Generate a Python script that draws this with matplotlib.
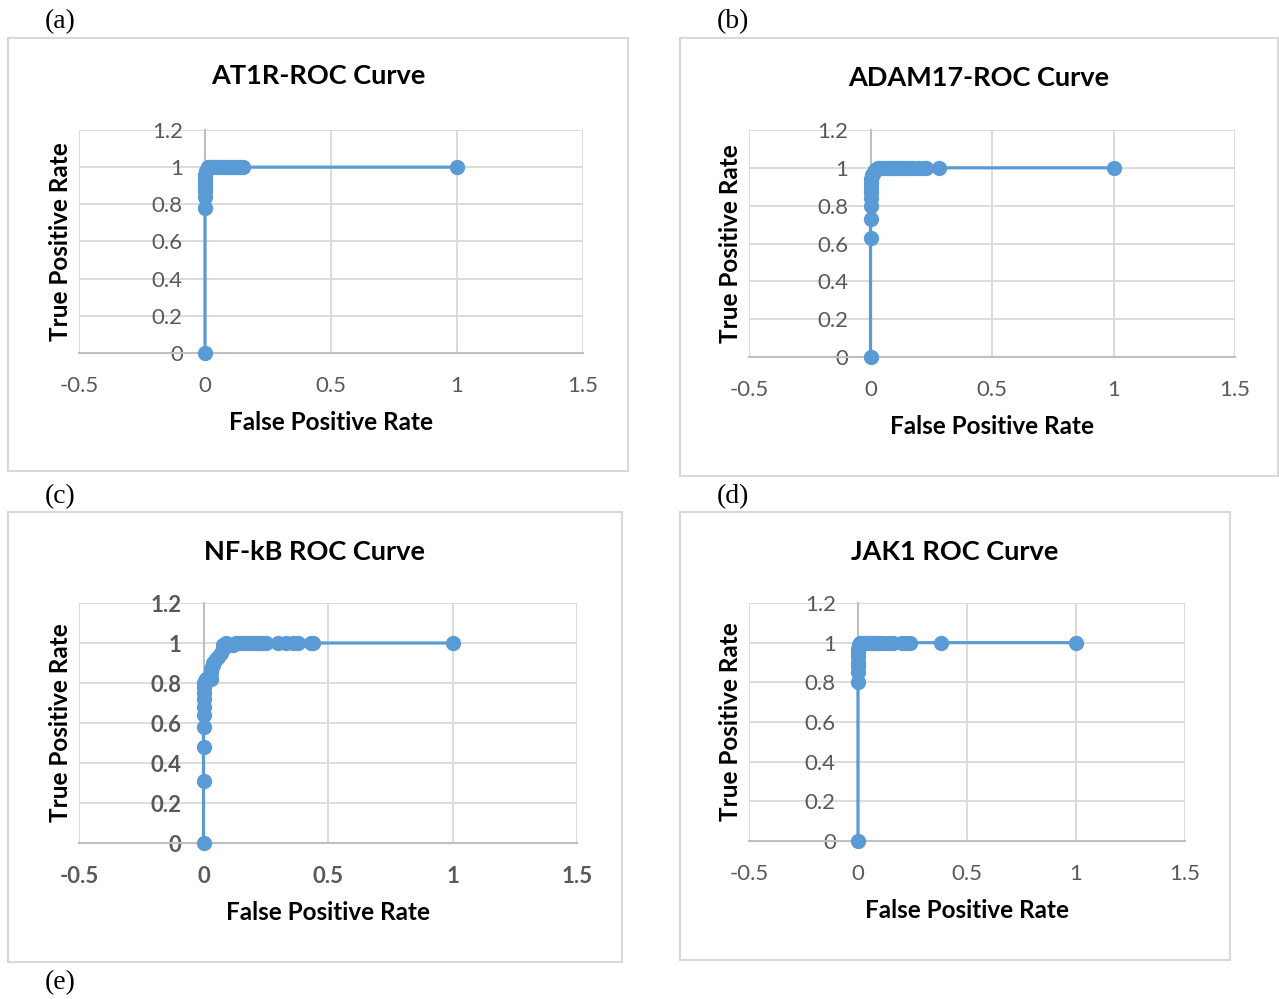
import matplotlib
matplotlib.use("Agg")
import matplotlib.pyplot as plt
from matplotlib.patches import Rectangle

plt.rcParams['font.family'] = ['Lato', 'DejaVu Sans']

W, H = 1279, 999
BLUE = "#5B9BD5"
GRID = "#D9D9D9"
AXIS = "#BFBFBF"
TICK = "#595959"

# data
fpr_at1r = [0, 0, 0, 0, 0, 0, 0, 0, 0.005, 0.01, 0.02, 0.03, 0.04, 0.05,
            0.06, 0.07, 0.08, 0.09, 0.1, 0.11, 0.12, 0.13, 0.14, 0.15, 1]
tpr_at1r = [0, 0.78, 0.84, 0.87, 0.9, 0.92, 0.94, 0.96, 0.98, 1, 1, 1, 1, 1,
            1, 1, 1, 1, 1, 1, 1, 1, 1, 1, 1]

fpr_adam17 = [0, 0, 0, 0, 0, 0, 0, 0, 0, 0.005, 0.01, 0.015, 0.02, 0.03,
              0.04, 0.05, 0.06, 0.07, 0.08, 0.09, 0.1, 0.11, 0.12, 0.13,
              0.14, 0.15, 0.16, 0.17, 0.19, 0.2, 0.22, 0.23, 0.28, 1]
tpr_adam17 = [0, 0.63, 0.73, 0.8, 0.84, 0.87, 0.9, 0.92, 0.94, 0.96, 0.97,
              0.98, 0.99, 1, 1, 1, 1, 1, 1, 1, 1, 1, 1, 1,
              1, 1, 1, 1, 1, 1, 1, 1, 1, 1]

fpr_nfkb = [0, 0, 0, 0, 0, 0, 0, 0, 0, 0, 0.005, 0.01, 0.02, 0.03, 0.03,
            0.03, 0.04, 0.04, 0.05, 0.06, 0.07, 0.08, 0.08, 0.09, 0.1,
            0.11, 0.12, 0.13, 0.14, 0.15, 0.16, 0.17, 0.18, 0.19, 0.2,
            0.21, 0.22, 0.23, 0.24, 0.25, 0.3, 0.33, 0.36, 0.38, 0.43, 0.44, 1]
tpr_nfkb = [0, 0.31, 0.48, 0.58, 0.64, 0.68, 0.72, 0.75, 0.78, 0.8, 0.81,
            0.82, 0.82, 0.82, 0.85, 0.87, 0.89, 0.9, 0.92, 0.93, 0.95,
            0.97, 0.99, 1, 0.99, 0.99, 0.99, 1, 1, 1, 1, 1, 1, 1, 1,
            1, 1, 1, 1, 1, 1, 1, 1, 1, 1, 1, 1]

fpr_jak1 = [0, 0, 0, 0, 0, 0, 0, 0, 0.005, 0.01, 0.02, 0.03, 0.04, 0.05,
            0.06, 0.07, 0.08, 0.09, 0.1, 0.12, 0.14, 0.16, 0.2, 0.22, 0.24,
            0.38, 1]
tpr_jak1 = [0, 0.8, 0.85, 0.88, 0.9, 0.93, 0.95, 0.97, 0.99, 1, 1, 1, 1, 1,
            1, 1, 1, 1, 1, 1, 1, 1, 1, 1, 1, 1, 1]

titles = ["AT1R-ROC Curve", "ADAM17-ROC Curve", "NF-kB ROC Curve", "JAK1 ROC Curve"]
xticks = [-0.5, 0, 0.5, 1, 1.5]
xtick_labels = ["-0.5", "0", "0.5", "1", "1.5"]
yticks = [0, 0.2, 0.4, 0.6, 0.8, 1, 1.2]
ytick_labels = ["0", "0.2", "0.4", "0.6", "0.8", "1", "1.2"]

# pixel layout: frame box, plot box, title y, xlabel y, ylabel x
panels = [
    dict(frame=(8, 38, 628, 471), plot=(79, 130, 583, 353), ty=76, xly=423, ylx=60,
         bold_ticks=False, data=(fpr_at1r, tpr_at1r)),
    dict(frame=(680, 38, 1278, 476), plot=(749, 130, 1235, 357), ty=78, xly=427, ylx=731,
         bold_ticks=False, data=(fpr_adam17, tpr_adam17)),
    dict(frame=(8, 512, 622, 962), plot=(79, 603, 577, 843), ty=552, xly=913, ylx=60,
         bold_ticks=True, data=(fpr_nfkb, tpr_nfkb)),
    dict(frame=(680, 512, 1230, 960), plot=(749, 603, 1185, 841), ty=552, xly=911, ylx=731,
         bold_ticks=False, data=(fpr_jak1, tpr_jak1)),
]
letters = [("(a)", 60, 22), ("(b)", 733, 22), ("(c)", 60, 497), ("(d)", 733, 497), ("(e)", 60, 983)]


def fx(px):
    return px / W


def fy(py):
    return 1 - py / H


fig = plt.figure(figsize=(W / 100, H / 100), dpi=100)

for title, p in zip(titles, panels):
    x0, y0, x1, y1 = p["frame"]
    fig.patches.append(Rectangle((fx(x0), fy(y1)), fx(x1 - x0), (y1 - y0) / H,
                                 transform=fig.transFigure, fill=False,
                                 edgecolor=GRID, linewidth=1.5))
    l, t, r, b = p["plot"]
    ax = fig.add_axes([fx(l), fy(b), fx(r - l), (b - t) / H])
    for s in ["top", "right"]:
        ax.spines[s].set_visible(False)
    # y axis crosses at x = 0, like the spreadsheet chart
    ax.spines["left"].set_position(("data", 0))
    ax.spines["left"].set_color(AXIS)
    ax.spines["left"].set_linewidth(1.5)
    ax.spines["bottom"].set_color(AXIS)
    ax.spines["bottom"].set_linewidth(1.5)

    fpr, tpr = p["data"]
    ax.plot(fpr, tpr, color=BLUE, lw=2.3, marker="o", ms=10,
            markerfacecolor=BLUE, markeredgecolor=BLUE, zorder=5, clip_on=False)
    ax.set_xlim(-0.5, 1.5)
    ax.set_ylim(0, 1.2)
    ax.set_xticks(xticks)
    ax.set_yticks(yticks)
    weight = "bold" if p["bold_ticks"] else "normal"
    ax.set_xticklabels(xtick_labels, fontsize=16, color=TICK, fontweight=weight)
    ax.set_yticklabels(ytick_labels, fontsize=16, color=TICK, fontweight=weight)
    ax.tick_params(length=0)
    ax.tick_params(axis="x", pad=16.5)
    ax.tick_params(axis="y", pad=16)
    ax.grid(True, color=GRID, lw=1.3)
    ax.set_axisbelow(True)
    ax.set_facecolor("none")

    fig.text(fx((x0 + x1) / 2), fy(p["ty"]), title, ha="center", va="center",
             fontsize=19.5, fontweight="bold", color="black")
    fig.text(fx((l + r) / 2), fy(p["xly"]), "False Positive Rate", ha="center",
             va="center", fontsize=17.5, fontweight="bold", color="black")
    fig.text(fx(p["ylx"]), fy((t + b) / 2), "True Positive Rate", ha="center",
             va="center", rotation=90, fontsize=17.5, fontweight="bold", color="black")

for s, x, y in letters:
    fig.text(fx(x), fy(y), s, ha="center", va="center", fontsize=20,
             family="Liberation Serif", color="black")

fig.savefig("out.png", dpi=100)
